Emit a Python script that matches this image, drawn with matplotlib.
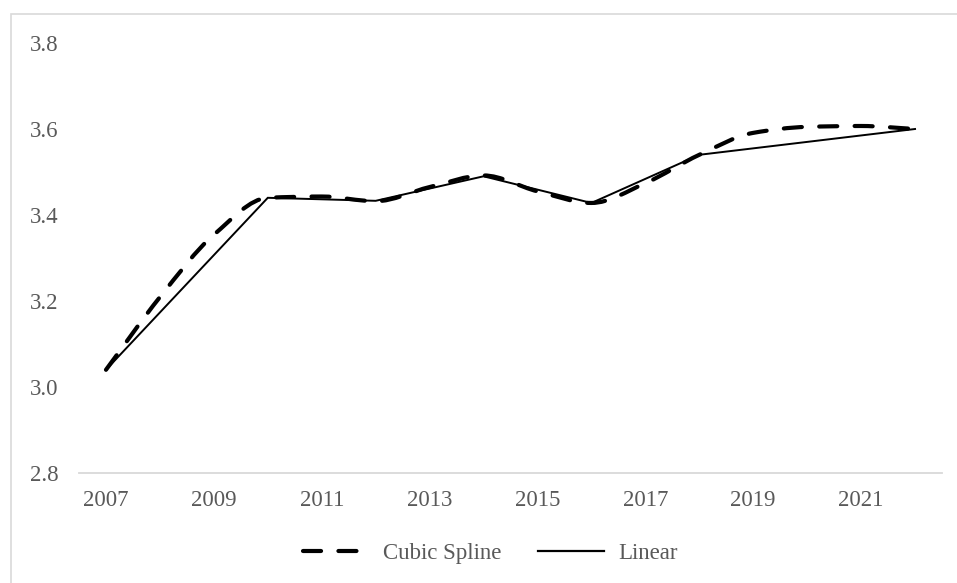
import matplotlib
matplotlib.use("Agg")
import matplotlib.pyplot as plt
from matplotlib.path import Path
from matplotlib.patches import PathPatch, Rectangle
from matplotlib.lines import Line2D

# ---- data ----
spline_years = list(range(2007, 2023))
spline_values = [3.04, 3.209, 3.354, 3.44, 3.443, 3.432, 3.465, 3.492,
                 3.455, 3.428, 3.474, 3.54, 3.591, 3.605, 3.607, 3.60]
linear_years = [2007, 2010, 2012, 2014, 2016, 2018, 2022]
linear_values = [3.04, 3.44, 3.433, 3.49, 3.428, 3.54, 3.60]
xtick_labels = ["2007", "2009", "2011", "2013", "2015", "2017", "2019", "2021"]
ytick_values = [2.8, 3.0, 3.2, 3.4, 3.6, 3.8]
series_names = ["Cubic Spline", "Linear"]

plt.rcParams['font.family'] = ['Liberation Serif', 'DejaVu Serif']
plt.rcParams['lines.scale_dashes'] = False

fig = plt.figure(figsize=(9.57, 5.83), dpi=100)
ax = fig.add_axes([79/957, 1-473/583, (942-79)/957, (473-43)/583])

# outer chart-area border
fig.patches.append(Rectangle((11/957, -0.05), 1.0, 1-14/583+0.05,
                             transform=fig.transFigure, fill=False,
                             edgecolor='#D9D9D9', lw=1.2))

# smoothed (Bezier) rendering of the spline series, monotone tangents
def smooth_path(xs, ys):
    n = len(xs)
    d = [(ys[i+1] - ys[i]) / (xs[i+1] - xs[i]) for i in range(n - 1)]
    m = [0.0] * n
    m[0], m[-1] = d[0], d[-1]
    for k in range(1, n - 1):
        if d[k-1] * d[k] > 0:
            m[k] = 2.0 / (1.0 / d[k-1] + 1.0 / d[k])
    verts = [(xs[0], ys[0])]
    codes = [Path.MOVETO]
    for i in range(n - 1):
        h = xs[i+1] - xs[i]
        c1 = (xs[i] + h / 3.0, ys[i] + m[i] * h / 3.0)
        c2 = (xs[i+1] - h / 3.0, ys[i+1] - m[i+1] * h / 3.0)
        verts += [c1, c2, (xs[i+1], ys[i+1])]
        codes += [Path.CURVE4] * 3
    return Path(verts, codes)

dash_pat = (0, (13, 12.5))
patch = PathPatch(smooth_path(spline_years, spline_values), fill=False,
                  edgecolor='black', lw=3.0, linestyle=dash_pat,
                  capstyle='round', joinstyle='round', zorder=3)
ax.add_patch(patch)

ax.plot(linear_years, linear_values, color='black', lw=1.4, zorder=4,
        solid_joinstyle='miter')

ax.set_xlim(2006.5, 2022.5)
ax.set_ylim(2.8, 3.8)
ax.set_xticks([int(t) for t in xtick_labels])
ax.set_xticklabels(xtick_labels)
ax.set_yticks(ytick_values)
ax.set_yticklabels([f"{v:.1f}" for v in ytick_values])

for s in ['top', 'right', 'left']:
    ax.spines[s].set_visible(False)
ax.spines['bottom'].set_color('#D9D9D9')
ax.spines['bottom'].set_linewidth(1.3)
ax.tick_params(axis='both', length=0, labelsize=16.5, labelcolor='#595959')
ax.tick_params(axis='y', pad=15)
ax.tick_params(axis='x', pad=12)

handles = [Line2D([], [], color='black', lw=3.0, linestyle=dash_pat,
                  dash_capstyle='round'),
           Line2D([], [], color='black', lw=1.6)]
leg = fig.legend(handles, series_names, loc='center', ncol=2,
                 bbox_to_anchor=(0.512, 1-553/583), frameon=False,
                 fontsize=16.5, handlelength=2.9, handletextpad=0.6,
                 columnspacing=1.6)
for t in leg.get_texts():
    t.set_color('#595959')

fig.savefig("out.png", dpi=100)
